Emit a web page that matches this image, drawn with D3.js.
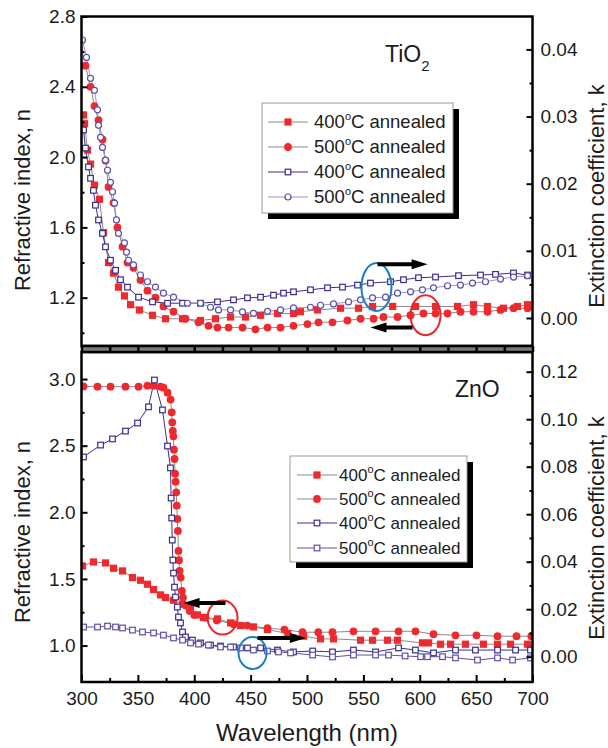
<!DOCTYPE html>
<html><head><meta charset="utf-8">
<script src="https://cdn.jsdelivr.net/npm/d3@7"></script>
<style>body{margin:0;background:#fff}</style>
</head><body>
<svg id="chart" width="608" height="748"></svg>
<script>
// ---- TiO2 : refractive index n (left axis) ----
const tiWl_n400 = [301.8,302.7,305.3,308,311.5,316,319.5,324,328.4,332.8,338.1,343.5,351.4,363,374.5,389.6,405.5,418.8,432.2,445.5,458.8,473.8,488,494.2,509.3,529.7,545.7,558.1,576,596.2,614,633.5,647.7,660,674.3,686.7,695.6];
const tiN400    = [2.24,2.19,2.04,1.96,1.84,1.76,1.57,1.40,1.34,1.26,1.21,1.16,1.13,1.10,1.08,1.08,1.07,1.08,1.09,1.09,1.10,1.11,1.11,1.12,1.13,1.14,1.14,1.15,1.15,1.15,1.15,1.15,1.16,1.15,1.14,1.15,1.16];
const tiWl_n500 = [303.5,308,311.5,315.1,318.6,321.3,324,328.4,331.9,336.4,340.8,346.1,352.3,358.5,365.6,372.7,381.6,392.2,403.8,412.6,420.6,430.4,442.8,454.3,465,476.5,488,500.4,510.2,522.6,535.9,547.5,559,567.8,580.3,591.8,603.3,614,624.6,636.1,647.7,660.1,671.6,683.2,695.6];
const tiN500    = [2.52,2.40,2.29,2.21,2.10,1.98,1.83,1.74,1.60,1.49,1.40,1.37,1.30,1.24,1.20,1.15,1.12,1.08,1.06,1.04,1.03,1.03,1.03,1.02,1.03,1.03,1.04,1.05,1.06,1.06,1.07,1.08,1.08,1.09,1.09,1.10,1.11,1.11,1.11,1.12,1.12,1.12,1.13,1.14,1.14];
// ---- TiO2 : extinction coefficient k (right axis) ----
const tiWl_k400 = [301.8,303.5,306.2,308,310.6,312.4,315.1,318.6,321.3,325.7,330.2,334.6,340.8,350.6,363,376.3,389.6,405.5,420.6,434.8,447.2,458.8,470.3,479.2,488,503.1,518.2,531.5,544.8,556.3,574.1,585.6,598.9,614,634.4,653.9,667.2,683.1,695.6];
const tiK400    = [0.0280,0.0253,0.0225,0.0208,0.0190,0.0168,0.0146,0.0126,0.0106,0.0086,0.0071,0.0057,0.0046,0.0031,0.0024,0.0022,0.0022,0.0022,0.0024,0.0027,0.0030,0.0031,0.0034,0.0037,0.0039,0.0042,0.0045,0.0046,0.0049,0.0052,0.0054,0.0057,0.0060,0.0061,0.0063,0.0064,0.0065,0.0067,0.0064];
const tiWl_k500 = [300.9,304.4,308,311.5,314.2,315.1,316.9,318.6,321.3,323.1,325.7,327.5,329.3,331,332.8,338.1,339.9,341.7,346.1,352.3,358.5,365.6,372.7,381.6,394,405.5,414.4,421.5,432.2,442.8,452.5,465,476.5,488,503.1,512,523.5,536.8,547.5,558.1,569.6,580.3,591.8,602.4,612.2,624.6,636.1,646.8,658.3,671.6,683.2,695.6];
const tiK500    = [0.0414,0.0388,0.0357,0.0339,0.0310,0.0287,0.0269,0.0254,0.0235,0.0220,0.0202,0.0188,0.0171,0.0146,0.0126,0.0112,0.0098,0.0086,0.0079,0.0064,0.0054,0.0046,0.0037,0.0031,0.0022,0.0022,0.0016,0.0012,0.0012,0.0009,0.0007,0.0010,0.0012,0.0015,0.0016,0.0019,0.0021,0.0024,0.0027,0.0030,0.0031,0.0037,0.0039,0.0042,0.0045,0.0048,0.0049,0.0052,0.0054,0.0058,0.0061,0.0063];

// ---- ZnO : refractive index n (left axis) ----
const znWl_n400 = [300.9,310.6,321.3,328.4,336.4,345.2,352.3,358.5,363.9,370.1,374.5,381.6,389.6,396.7,402.9,408.2,420.6,432.2,441,452.5,465,483,497,512,523.5,547.5,558.1,571.4,580.3,602.4,607.8,618.4,627.3,640.6,656.5,669,680.5,695.6];
const znN400    = [1.597,1.627,1.62,1.58,1.56,1.51,1.49,1.46,1.42,1.38,1.36,1.34,1.31,1.29,1.23,1.21,1.20,1.17,1.15,1.14,1.12,1.09,1.07,1.05,1.05,1.04,1.04,1.04,1.04,1.02,1.02,1.01,1.01,1.01,1.01,1.01,1.01,1.01];
const znWl_n500 = [301.8,314.2,325.7,339,350.6,358.5,363.9,370.1,372.7,376.3,379,380,380.5,381,381.5,382,382.5,383,383.5,384,384.5,385,385.5,386,386.5,387,388,389,390,392.5,396,400,410,420,435,447,465,480,496,510,522.6,541.2,560.8,581.2,596.2,612.2,631.7,650.3,669,685.8,699];
const znN500    = [2.945,2.943,2.943,2.943,2.943,2.95,2.95,2.943,2.935,2.898,2.846,2.75,2.675,2.61,2.57,2.47,2.40,2.29,2.23,2.15,2.05,1.95,1.86,1.71,1.64,1.56,1.51,1.41,1.36,1.30,1.26,1.23,1.21,1.19,1.16,1.15,1.13,1.12,1.10,1.10,1.10,1.107,1.107,1.107,1.107,1.085,1.077,1.077,1.07,1.07,1.07];
// ---- ZnO : extinction coefficient k (right axis) ----
const znWl_k400 = [301.8,316.9,327.5,339,349.7,359.4,364.7,371.8,376.3,378.9,379.5,380,380.5,381,381.6,382.5,383.4,385,386,387.8,389.6,392.2,398.4,405.5,414.4,423.3,434.8,447.2,458.8,473.8,488,505,522.6,541.2,560.8,581.2,596.2,612.2,631.7,649.4,669,685,698.2];
const znK400    = [0.0841,0.0891,0.0917,0.0950,0.0984,0.1052,0.1165,0.1039,0.0887,0.0795,0.0668,0.0584,0.0491,0.0407,0.0352,0.0293,0.0251,0.0209,0.0167,0.0142,0.0104,0.0083,0.0070,0.0058,0.0049,0.0045,0.0041,0.0037,0.0037,0.0028,0.0020,0.0024,0.0020,0.0028,0.0020,0.0037,0.0028,0.0016,0.0028,0.0028,0.0028,0.0028,0.0028];
const znWl_k500 = [301.8,314.2,323.1,330.2,336.4,345.2,354.1,363.9,372.7,381.6,389.6,396.7,403.8,412.6,423.3,432.2,441,452.5,465,474.7,485.4,505,522.6,541.2,560.8,572.3,587,600.7,606.9,620.2,631.7,651.2,669,682.3,698.2];
const znK500    = [0.0125,0.0125,0.0129,0.0125,0.0121,0.0112,0.0104,0.0100,0.0091,0.0079,0.0070,0.0058,0.0053,0.0049,0.0041,0.0041,0.0037,0.0028,0.0024,0.0020,0.0016,0.0007,-0.0001,0.0007,0.0007,0.0007,0.0003,0.0000,0.0000,0.0000,-0.0005,-0.0014,-0.0005,-0.0014,-0.0005];

const legendLabels = ["400", "500", "400", "500"];
const panelNames = ["TiO", "ZnO"];
const xTicks = [300, 350, 400, 450, 500, 550, 600, 650, 700];

// ---------------------------------------------------------------
const FONT = "'Liberation Sans', Arial, Helvetica, sans-serif";
const INK = "#1b1b1b";
const RED = "#ee2a2e";
const NAVY = "#3a2e8e";
const PURPLE = "#5c51a8";
const LILAC = "#9a92cc";
const GREYLINE = "#8a8a8a";

const svg = d3.select("#chart");
const L = 81.5, R = 532.5;
const x = d3.scaleLinear().domain([300, 700]).range([L, R]);

const panels = [
  { top: 16.5, bottom: 346,
    yN: d3.scaleLinear().domain([0.925, 2.8]).range([346, 16.5]),
    yK: d3.scaleLinear().domain([-0.00417, 0.0449]).range([346, 16.5]),
    nMajor: d3.range(1.2, 2.81, 0.4), nMinor: d3.range(1.0, 2.61, 0.4),
    kMajor: d3.range(0, 0.0401, 0.01), kMinor: d3.range(0.005, 0.0351, 0.01),
    series: [
      { wl: tiWl_n400, v: tiN400, axis: "n", line: GREYLINE, mark: "sqf", col: RED },
      { wl: tiWl_n500, v: tiN500, axis: "n", line: GREYLINE, mark: "cif", col: RED },
      { wl: tiWl_k400, v: tiK400, axis: "k", line: NAVY, mark: "sqo", col: NAVY },
      { wl: tiWl_k500, v: tiK500, axis: "k", line: LILAC, mark: "cio", col: PURPLE }
    ],
    legend: { x: 262, y: 103, w: 191, h: 110, rows: [122, 147, 172, 197], lx: 268, tx: 314, fs: 18.5 },
    title: { x: 385, y: 62, sub: "2" },
    ellipses: [
      { axis: "k", wl: 561.6, v: 0.0046, rx: 15, ry: 24, col: "#1c7ec4" },
      { axis: "n", wl: 605.1, v: 1.10, rx: 15, ry: 20, col: "#e8262a" }
    ],
    arrows: [
      { axis: "k", from: 562.5, to: 607, v: 0.0080 },
      { axis: "n", from: 593.6, to: 556.3, v: 1.03 }
    ],
    leftTitleY: 200, rightTitleY: 196 },
  { top: 352, bottom: 682,
    yN: d3.scaleLinear().domain([0.7264, 3.203]).range([682, 352]),
    yK: d3.scaleLinear().domain([-0.01065, 0.1283]).range([682, 352]),
    nMajor: d3.range(1.0, 3.01, 0.5), nMinor: d3.range(1.25, 2.76, 0.5),
    kMajor: d3.range(0, 0.1201, 0.02), kMinor: d3.range(0.01, 0.111, 0.02),
    series: [
      { wl: znWl_n400, v: znN400, axis: "n", line: GREYLINE, mark: "sqf", col: RED },
      { wl: znWl_n500, v: znN500, axis: "n", line: GREYLINE, mark: "cif", col: RED },
      { wl: znWl_k400, v: znK400, axis: "k", line: NAVY, mark: "sqo", col: NAVY },
      { wl: znWl_k500, v: znK500, axis: "k", line: PURPLE, mark: "sqo", col: PURPLE }
    ],
    legend: { x: 290, y: 456, w: 177, h: 106, rows: [475, 499, 523, 548], lx: 297, tx: 339, fs: 17 },
    title: { x: 455, y: 397, sub: null },
    ellipses: [
      { axis: "n", wl: 425.1, v: 1.21, rx: 15, ry: 17, col: "#e8262a" },
      { axis: "k", wl: 451.7, v: 0.0016, rx: 14, ry: 16, col: "#1c7ec4" }
    ],
    arrows: [
      { axis: "n", from: 427.7, to: 390.5, v: 1.32 },
      { axis: "k", from: 456.1, to: 499, v: 0.0079 }
    ],
    leftTitleY: 532, rightTitleY: 528 }
];

function drawMarker(g, kind, col, cx, cy) {
  if (kind === "sqf") g.append("rect").attr("x", cx - 3.6).attr("y", cy - 3.6).attr("width", 7.2).attr("height", 7.2).attr("fill", col);
  else if (kind === "cif") g.append("circle").attr("cx", cx).attr("cy", cy).attr("r", 3.9).attr("fill", col);
  else if (kind === "sqo") g.append("rect").attr("x", cx - 2.8).attr("y", cy - 2.8).attr("width", 5.6).attr("height", 5.6).attr("fill", "#fff").attr("stroke", col).attr("stroke-width", 1.2);
  else g.append("circle").attr("cx", cx).attr("cy", cy).attr("r", 3).attr("fill", "#fff").attr("stroke", col).attr("stroke-width", 1.2);
}

panels.forEach((p, i) => {
  const g = svg.append("g");
  const clipId = "clip" + i;
  svg.append("clipPath").attr("id", clipId).append("rect")
    .attr("x", L).attr("y", p.top).attr("width", R - L).attr("height", p.bottom - p.top);
  const plot = g.append("g").attr("clip-path", `url(#${clipId})`);

  // data curves
  p.series.forEach(s => {
    const y = s.axis === "n" ? p.yN : p.yK;
    const pts = s.wl.map((w, j) => [x(w), y(s.v[j])]);
    plot.append("path").attr("d", d3.line()(pts)).attr("fill", "none")
      .attr("stroke", s.line).attr("stroke-width", 1);
  });
  p.series.forEach(s => {
    const y = s.axis === "n" ? p.yN : p.yK;
    const mg = plot.append("g");
    s.wl.forEach((w, j) => drawMarker(mg, s.mark, s.col, x(w), y(s.v[j])));
  });

  // annotation ellipses and arrows
  p.ellipses.forEach(e => {
    const y = e.axis === "n" ? p.yN : p.yK;
    g.append("ellipse").attr("cx", x(e.wl)).attr("cy", y(e.v)).attr("rx", e.rx).attr("ry", e.ry)
      .attr("fill", "none").attr("stroke", e.col).attr("stroke-width", 2);
  });
  p.arrows.forEach(a => {
    const y = a.axis === "n" ? p.yN : p.yK;
    const x1 = x(a.from), x2 = x(a.to), yy = y(a.v), dir = Math.sign(x2 - x1);
    g.append("line").attr("x1", x1).attr("x2", x2 - dir * 10).attr("y1", yy).attr("y2", yy)
      .attr("stroke", "#000").attr("stroke-width", 4);
    g.append("path").attr("d", `M${x2},${yy} L${x2 - dir * 16},${yy - 5} L${x2 - dir * 16},${yy + 5} Z`).attr("fill", "#000");
  });

  // axes (ticks point inward)
  const tickStyle = sel => {
    sel.select(".domain").remove();
    sel.selectAll(".tick line").attr("stroke", "#000").attr("stroke-width", 2);
    sel.selectAll(".tick text").attr("font-family", FONT).attr("font-size", 19).attr("fill", INK);
  };
  g.append("g").attr("transform", `translate(${L},0)`)
    .call(d3.axisLeft(p.yN).tickValues(p.nMajor).tickSize(-6).tickPadding(6).tickFormat(d3.format(".1f"))).call(tickStyle);
  g.append("g").attr("transform", `translate(${L},0)`)
    .call(d3.axisLeft(p.yN).tickValues(p.nMinor).tickSize(-3).tickFormat("")).call(tickStyle);
  g.append("g").attr("transform", `translate(${R},0)`)
    .call(d3.axisRight(p.yK).tickValues(p.kMajor).tickSize(-6).tickPadding(8).tickFormat(d3.format(".2f"))).call(tickStyle);
  g.append("g").attr("transform", `translate(${R},0)`)
    .call(d3.axisRight(p.yK).tickValues(p.kMinor).tickSize(-3).tickFormat("")).call(tickStyle);

  // frame
  g.append("rect").attr("x", L).attr("y", p.top).attr("width", R - L).attr("height", p.bottom - p.top)
    .attr("fill", "none").attr("stroke", "#000").attr("stroke-width", 2.5);

  // legend
  const lg = p.legend;
  g.append("rect").attr("x", lg.x + 6).attr("y", lg.y + 6).attr("width", lg.w).attr("height", lg.h).attr("fill", "#000");
  g.append("rect").attr("x", lg.x).attr("y", lg.y).attr("width", lg.w).attr("height", lg.h)
    .attr("fill", "#fff").attr("stroke", "#999").attr("stroke-width", 1);
  p.series.forEach((s, j) => {
    const yy = lg.rows[j];
    g.append("line").attr("x1", lg.lx).attr("x2", lg.lx + 40).attr("y1", yy).attr("y2", yy)
      .attr("stroke", s.line).attr("stroke-width", 1.2);
    drawMarker(g, s.mark, s.col, lg.lx + 20, yy);
    const t = g.append("text").attr("x", lg.tx).attr("y", yy + 6).attr("font-family", FONT)
      .attr("font-size", lg.fs).attr("fill", INK);
    t.append("tspan").text(legendLabels[j]);
    t.append("tspan").attr("font-size", 11).attr("dy", -8).text("o");
    t.append("tspan").attr("dy", 8).text("C annealed");
  });

  // panel title
  const tt = g.append("text").attr("x", p.title.x).attr("y", p.title.y)
    .attr("font-family", FONT).attr("font-size", 23).attr("fill", INK).text(panelNames[i]);
  if (p.title.sub) tt.append("tspan").attr("font-size", 15).attr("dy", 9).text(p.title.sub);

  // axis titles
  svg.append("text").attr("transform", `translate(30,${p.leftTitleY}) rotate(-90)`)
    .attr("text-anchor", "middle").attr("font-family", FONT).attr("font-size", 22).attr("fill", INK)
    .text("Refractive index, n");
  svg.append("text").attr("transform", `translate(604,${p.rightTitleY}) rotate(-90)`)
    .attr("text-anchor", "middle").attr("font-family", FONT).attr("font-size", 22).attr("fill", INK)
    .text("Extinction coefficient, k");
});

// shared wavelength axis between and below the panels
const sep = svg.append("g");
sep.append("rect").attr("x", L).attr("y", 346).attr("width", R - L).attr("height", 6).attr("fill", "#7a7a7a");
sep.append("g").attr("transform", "translate(0,346)")
  .call(d3.axisBottom(x).tickValues(d3.range(300, 701, 25)).tickSize(6).tickFormat(""))
  .call(s => { s.select(".domain").remove(); s.selectAll(".tick line").attr("stroke", "#000").attr("stroke-width", 2.5); });
sep.append("line").attr("x1", L).attr("x2", R).attr("y1", 346).attr("y2", 346).attr("stroke", "#000").attr("stroke-width", 2.5);
sep.append("line").attr("x1", L).attr("x2", R).attr("y1", 352).attr("y2", 352).attr("stroke", "#000").attr("stroke-width", 2.5);

const xa = svg.append("g").attr("transform", "translate(0,682)");
xa.call(d3.axisBottom(x).tickValues(xTicks).tickSize(-7).tickPadding(10).tickFormat(d3.format("d")))
  .call(s => {
    s.select(".domain").remove();
    s.selectAll(".tick line").attr("stroke", "#000").attr("stroke-width", 2);
    s.selectAll(".tick text").attr("font-family", FONT).attr("font-size", 19).attr("fill", INK);
  });
svg.append("g").attr("transform", "translate(0,682)")
  .call(d3.axisBottom(x).tickValues(d3.range(325, 700, 50)).tickSize(-4).tickFormat(""))
  .call(s => { s.select(".domain").remove(); s.selectAll(".tick line").attr("stroke", "#000").attr("stroke-width", 2); });

svg.append("text").attr("x", 307).attr("y", 741).attr("text-anchor", "middle")
  .attr("font-family", FONT).attr("font-size", 24).attr("fill", INK).text("Wavelength (nm)");
</script>
</body></html>
